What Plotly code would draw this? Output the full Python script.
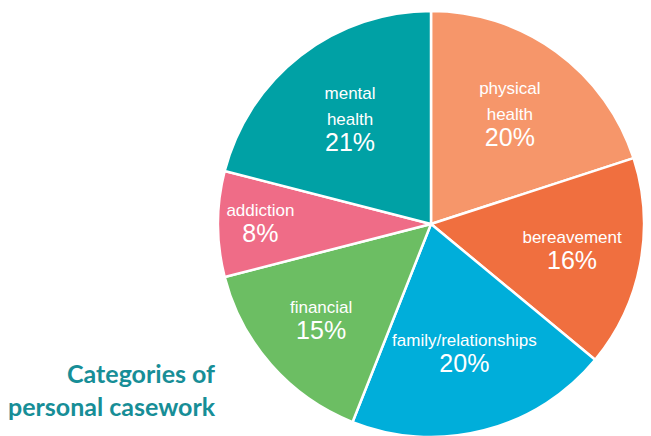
import plotly.graph_objects as go

CATEGORIES = ["physical health", "bereavement", "family/relationships",
              "financial", "addiction", "mental health"]
DISPLAY = ["physical<br>health", "bereavement", "family/relationships",
           "financial", "addiction", "mental<br>health"]
SHARES = [20, 16, 20, 15, 8, 21]
COLORS = ["#F6966A", "#F06F3F", "#00AEDA", "#6CBE63", "#EF6C87", "#00A1A5"]

TITLE = "Categories of<br>personal casework"
TEAL = "#178E97"

W, H = 651, 436
OFF = 8  # page body margin pushes the figure right/down by this much
CX, CY, R = 431 - OFF, 224 - OFF, 213  # pie centre/radius in figure pixels

fig = go.Figure(go.Pie(
    labels=CATEGORIES,
    values=SHARES,
    text=DISPLAY,
    sort=False,
    direction="clockwise",
    rotation=0,
    marker=dict(colors=COLORS, line=dict(color="white", width=2.5)),
    texttemplate=("<span style='font-size:17px'>%{text}</span><br>"
                  "<span style='font-size:25px'>%{value}%</span>"),
    textposition="inside",
    insidetextorientation="horizontal",
    textfont=dict(family="Liberation Sans, Arial, sans-serif", size=20, color="white"),
    hoverinfo="label+percent",
    domain=dict(x=[(CX - R) / W, (CX + R) / W],
                y=[(H - CY - R) / H, (H - CY + R) / H]),
    showlegend=False,
))

fig.add_annotation(
    text=f"<b>{TITLE}</b>",
    xref="paper", yref="paper", x=(218 - OFF) / W, y=0.126,
    xanchor="right", yanchor="middle", align="right",
    showarrow=False,
    font=dict(family="Lato, sans-serif", size=25, color=TEAL),
)

fig.update_layout(
    width=W, height=H,
    margin=dict(l=0, r=0, t=0, b=0),
    paper_bgcolor="white",
    plot_bgcolor="white",
)

fig.write_html("out.html")
